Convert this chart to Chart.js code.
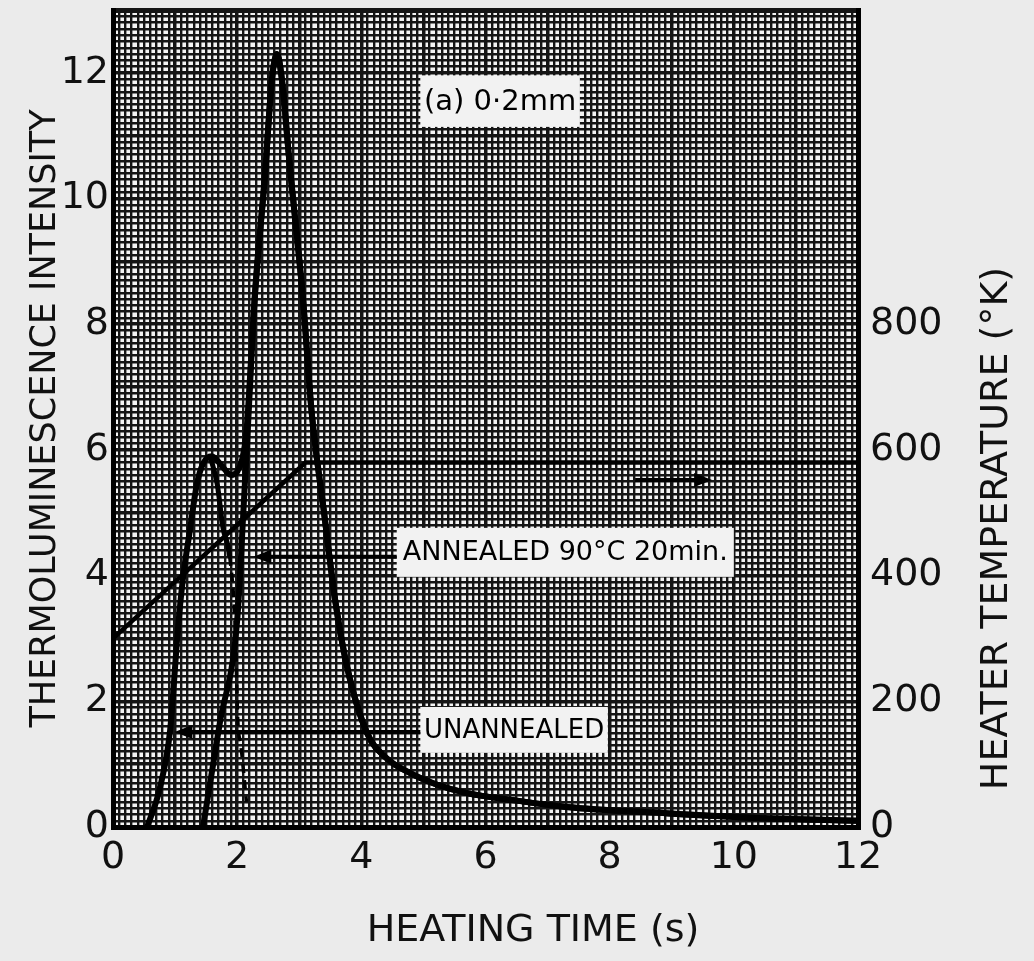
<!DOCTYPE html>
<html lang="en">
  <head>
    <meta charset="utf-8" />
    <title>Thermoluminescence glow curves</title>
    <style>
      * {
        margin: 0;
        padding: 0;
      }
      body {
        background: #ebebeb;
      }
      .chartBox {
        width: 1034px;
        height: 961px;
      }
    </style>
  </head>
  <body>
    <div class="chartBox">
      <canvas id="myChart" width="1034" height="961"></canvas>
    </div>
    <script src="https://cdn.jsdelivr.net/npm/chart.js/dist/chart.umd.min.js"></script>
    <script>
      // values
      const xTickLabels = [0, 2, 4, 6, 8, 10, 12];
      const yTickLabels = [0, 2, 4, 6, 8, 10, 12];
      const tempTickLabels = [0, 200, 400, 600, 800];

      const unannealedTime = [0.55, 0.75, 0.92, 1.05, 1.13, 1.24, 1.35, 1.45, 1.59, 1.75, 1.9, 2.0, 2.08, 2.15, 2.28, 2.45, 2.56, 2.64, 2.72, 2.84, 3.06, 3.2, 3.4, 3.58, 3.77, 4.09, 4.4, 4.78, 5.2, 5.7, 6.5, 7.3, 8.9, 10.5, 12];
      const unannealedIntensity = [0, 0.6, 1.54, 3.2, 3.98, 4.73, 5.45, 5.78, 5.9, 5.75, 5.6, 5.65, 5.85, 6.3, 8.38, 10.4, 11.9, 12.3, 11.9, 10.6, 8.4, 6.6, 5.0, 3.6, 2.55, 1.5, 1.1, 0.86, 0.68, 0.54, 0.42, 0.32, 0.22, 0.14, 0.1];

      const annealedTime = [1.45, 1.72, 2.0, 2.11, 2.17, 2.28, 2.45, 2.56, 2.64, 2.72, 2.84, 3.06, 3.2, 3.4, 3.58, 3.77, 4.09, 4.4, 4.78, 5.2, 5.7, 6.5, 7.3, 8.9, 10.5, 12];
      const annealedIntensity = [0, 1.65, 3.29, 5.2, 6.3, 8.38, 10.4, 11.9, 12.3, 11.9, 10.6, 8.4, 6.6, 5.0, 3.6, 2.55, 1.5, 1.1, 0.86, 0.68, 0.54, 0.42, 0.32, 0.22, 0.14, 0.1];

      // falling side of the first (low temperature) peak, dashed below ~4.3
      const humpTime = [1.57, 1.68, 1.77, 1.88, 1.97, 2.01, 2.06, 2.15];
      const humpIntensity = [5.88, 5.45, 4.77, 4.3, 3.13, 1.7, 1.3, 0.4];

      const heaterTime = [0, 3.1, 12];
      const heaterTemp = [300, 580, 580];

      const toPoints = (xs, ys) => xs.map((x, i) => ({ x: x, y: ys[i] }));
      const isTick = (list, v) => list.find((t) => Math.abs(t - v) < 1e-6);

      // paper grid: heavy line every second / unit, fine line every tenth
      function gridWidth(ctx, min, max) {
        const v = ctx.tick.value;
        if (Math.abs(v - min) < 1e-6 || Math.abs(v - max) < 1e-6) return 5;
        if (Math.abs(v - Math.round(v)) < 1e-6) return 3.5;
        return 2.4;
      }

      const notes = [
        { text: "(a) 0·2mm", x0: 4.95, x1: 7.52, y0: 11.14, y1: 11.96, size: 29 },
        { text: "ANNEALED 90°C 20min.", x0: 4.57, x1: 10.0, y0: 3.98, y1: 4.76, size: 27 },
        { text: "UNANNEALED", x0: 4.95, x1: 7.97, y0: 1.18, y1: 1.91, size: 26 },
      ];
      const arrows = [
        { x0: 4.57, x1: 2.26, y: 4.3 },
        { x0: 4.95, x1: 0.99, y: 1.51 },
        { x0: 8.41, x1: 9.65, y: 5.52 },
      ];

      const paper = {
        id: "paper",
        beforeDraw(chart) {
          const { ctx, chartArea: a } = chart;
          ctx.save();
          ctx.fillStyle = "#f4f4f4";
          ctx.fillRect(a.left, a.top, a.right - a.left, a.bottom - a.top);
          ctx.restore();
        },
      };

      const labels = {
        id: "labels",
        afterDatasetsDraw(chart) {
          const { ctx, scales, chartArea } = chart;
          const sx = scales.x;
          const sy = scales.y;
          ctx.save();
          notes.forEach((n) => {
            const l = sx.getPixelForValue(n.x0);
            const r = sx.getPixelForValue(n.x1);
            const t = sy.getPixelForValue(n.y1);
            const b = sy.getPixelForValue(n.y0);
            ctx.fillStyle = "#f2f2f2";
            ctx.fillRect(l, t, r - l, b - t);
            ctx.fillStyle = "#000";
            ctx.font = n.size + "px 'DejaVu Sans'";
            ctx.textAlign = "center";
            ctx.textBaseline = "middle";
            ctx.fillText(n.text, (l + r) / 2, (t + b) / 2 + 1);
          });
          ctx.strokeStyle = "#000";
          ctx.fillStyle = "#000";
          ctx.lineWidth = 4;
          arrows.forEach((a) => {
            const p0 = sx.getPixelForValue(a.x0);
            const p1 = sx.getPixelForValue(a.x1);
            const py = sy.getPixelForValue(a.y);
            const dir = p1 > p0 ? 1 : -1;
            ctx.beginPath();
            ctx.moveTo(p0, py);
            ctx.lineTo(p1 - dir * 10, py);
            ctx.stroke();
            ctx.beginPath();
            ctx.moveTo(p1, py);
            ctx.lineTo(p1 - dir * 18, py - 7);
            ctx.lineTo(p1 - dir * 18, py + 7);
            ctx.closePath();
            ctx.fill();
          });
          // right axis title reads bottom to top, like the left one
          ctx.translate(chartArea.right + 139, (chartArea.top + chartArea.bottom) / 2 + 110);
          ctx.rotate(-Math.PI / 2);
          ctx.fillStyle = "#111";
          ctx.font = "38px 'DejaVu Sans'";
          ctx.textAlign = "center";
          ctx.textBaseline = "middle";
          ctx.fillText("HEATER TEMPERATURE (°K)", 0, 0);
          ctx.restore();
        },
      };

      Chart.defaults.font.family = "'DejaVu Sans', sans-serif";
      Chart.defaults.color = "#111";

      const data = {
        datasets: [
          {
            label: "Unannealed",
            data: toPoints(unannealedTime, unannealedIntensity),
            borderColor: "#000",
            borderWidth: 6,
            pointRadius: 0,
            cubicInterpolationMode: "monotone",
            yAxisID: "y",
          },
          {
            label: "Annealed 90°C 20min.",
            data: toPoints(annealedTime, annealedIntensity),
            borderColor: "#000",
            borderWidth: 6,
            pointRadius: 0,
            cubicInterpolationMode: "monotone",
            yAxisID: "y",
          },
          {
            label: "First peak",
            data: toPoints(humpTime, humpIntensity),
            borderColor: "#000",
            borderWidth: 5,
            pointRadius: 0,
            cubicInterpolationMode: "monotone",
            segment: {
              borderDash: (ctx) => (ctx.p0DataIndex >= 3 ? [9, 7] : undefined),
              borderWidth: (ctx) => (ctx.p0DataIndex >= 3 ? 3.5 : undefined),
            },
            yAxisID: "y",
          },
          {
            label: "Heater temperature",
            data: toPoints(heaterTime, heaterTemp),
            borderColor: "#000",
            borderWidth: 4.5,
            pointRadius: 0,
            tension: 0,
            yAxisID: "y2",
          },
        ],
      };

      const tickFont = { size: 38 };

      const config = {
        type: "line",
        data,
        options: {
          responsive: false,
          animation: false,
          layout: { padding: { top: 10 } },
          plugins: {
            legend: { display: false },
            tooltip: { enabled: false },
          },
          scales: {
            x: {
              type: "linear",
              min: 0,
              max: 12,
              ticks: {
                stepSize: 0.1,
                autoSkip: false,
                maxRotation: 0,
                font: tickFont,
                padding: 8,
                callback: (v) => {
                  const t = isTick(xTickLabels, v);
                  return t === undefined ? "" : String(t);
                },
              },
              grid: {
                color: "#151515",
                lineWidth: (ctx) => gridWidth(ctx, 0, 12),
                drawTicks: false,
              },
              border: { width: 5, color: "#000" },
              title: {
                display: true,
                text: "\u2002\u2002\u2002\u2002\u2002HEATING TIME (s)",
                font: { size: 38 },
                padding: { top: 0, bottom: 7 },
              },
              afterFit: (s) => {
                s.height = 134;
                s.paddingLeft = 0;
                s.paddingRight = 0;
              },
            },
            y: {
              type: "linear",
              position: "left",
              min: 0,
              max: 13,
              ticks: {
                stepSize: 0.1,
                autoSkip: false,
                font: tickFont,
                padding: 4,
                callback: (v) => {
                  const t = isTick(yTickLabels, v);
                  return t === undefined ? "" : String(t);
                },
              },
              grid: {
                color: "#151515",
                lineWidth: (ctx) => gridWidth(ctx, 0, 13),
                drawTicks: false,
              },
              border: { width: 5, color: "#000" },
              title: {
                display: true,
                text: "THERMOLUMINESCENCE INTENSITY",
                font: { size: 35 },
                padding: { top: 25, bottom: 0 },
              },
              afterFit: (s) => {
                s.width = 113;
                s.paddingTop = 0;
                s.paddingBottom = 0;
              },
            },
            y2: {
              type: "linear",
              position: "right",
              min: 0,
              max: 1300,
              ticks: {
                stepSize: 200,
                autoSkip: false,
                font: tickFont,
                padding: 12,
                callback: (v) => {
                  const t = isTick(tempTickLabels, v);
                  return t === undefined ? "" : String(t);
                },
              },
              grid: { drawOnChartArea: false, drawTicks: false },
              border: { width: 5, color: "#000" },
              afterFit: (s) => {
                s.width = 176;
                s.paddingTop = 0;
                s.paddingBottom = 0;
              },
            },
          },
        },
        plugins: [paper, labels],
      };

      const myChart = new Chart(document.getElementById("myChart"), config);
    </script>
  </body>
</html>
